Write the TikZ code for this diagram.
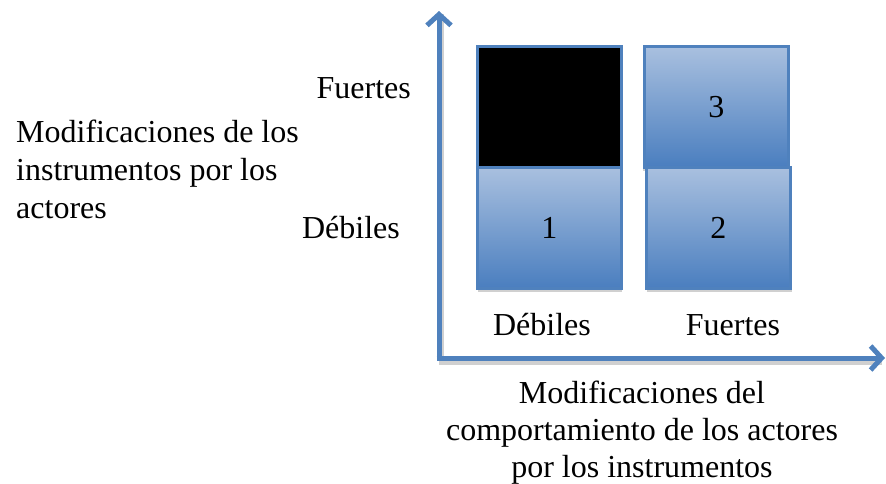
\documentclass[tikz,border=0pt]{standalone}
\usepackage{fontspec}
\setmainfont{Liberation Serif}
\usetikzlibrary{arrows.meta}
\definecolor{axisblue}{HTML}{4F81BD}
\definecolor{boxtop}{HTML}{A9C0DF}
\definecolor{boxbot}{HTML}{4A7EBF}
\definecolor{shadowgray}{HTML}{D0D0D0}
\tikzset{
  cell/.style={draw=axisblue, line width=2.5pt, top color=boxtop, bottom color=boxbot,
    minimum width=144pt, minimum height=121pt, inner sep=0pt, anchor=north west},
  blackcell/.style={cell, fill=black, top color=black, bottom color=black},
  axis/.style={draw=axisblue, line width=5pt, -{Straight Barb[length=11pt,width=24pt,line width=5pt]}},
  shadowaxis/.style={draw=shadowgray, line width=5pt},
  lbl/.style={font=\fontsize{32}{38}\selectfont, inner sep=0pt},
}
\begin{document}
\begin{tikzpicture}[x=1pt,y=-1pt]
\useasboundingbox (0,0) rectangle (886,483);
% shadows
\fill[shadowgray] (478,287) rectangle (622,292);
\fill[shadowgray] (647,287) rectangle (792,292);
\fill[shadowgray] (643,166) rectangle (646,171);
\draw[shadowaxis] (441,14) -- (441,362) -- (882,362);
% boxes
\node[blackcell] (b0) at (476,45) {};
\node[cell] (b1) at (476,166) {};
\node[cell] (b3) at (643,45) {};
\node[cell] (b2) at (645,166) {};
\node[lbl] at (b1.center) {1};
\node[lbl] at (b2.center) {2};
\node[lbl] at (b3.center) {3};
% axes
\coordinate (origin) at (439,358);
\coordinate (ytip) at (439,11);
\coordinate (xtip) at (885,358);
\draw[axis] (origin) -- (ytip);
\draw[axis] ([xshift=-2.5pt]origin) -- (xtip);
% labels
\node[lbl, anchor=east] (yf) at (411,88) {Fuertes};
\node[lbl, anchor=east] (yd) at (400,228) {Débiles};
\node[lbl] (xd) at (542,325) {Débiles};
\node[lbl] (xf) at (733,325) {Fuertes};
\node[lbl, anchor=north west, align=left] (ylab) at (16,120) {Modificaciones de los\\instrumentos por los\\actores};
\node[lbl, anchor=north, align=center, font=\fontsize{32}{37}\selectfont] (xlab) at (642,381) {Modificaciones del\\comportamiento de los actores\\por los instrumentos};
\end{tikzpicture}
\end{document}
